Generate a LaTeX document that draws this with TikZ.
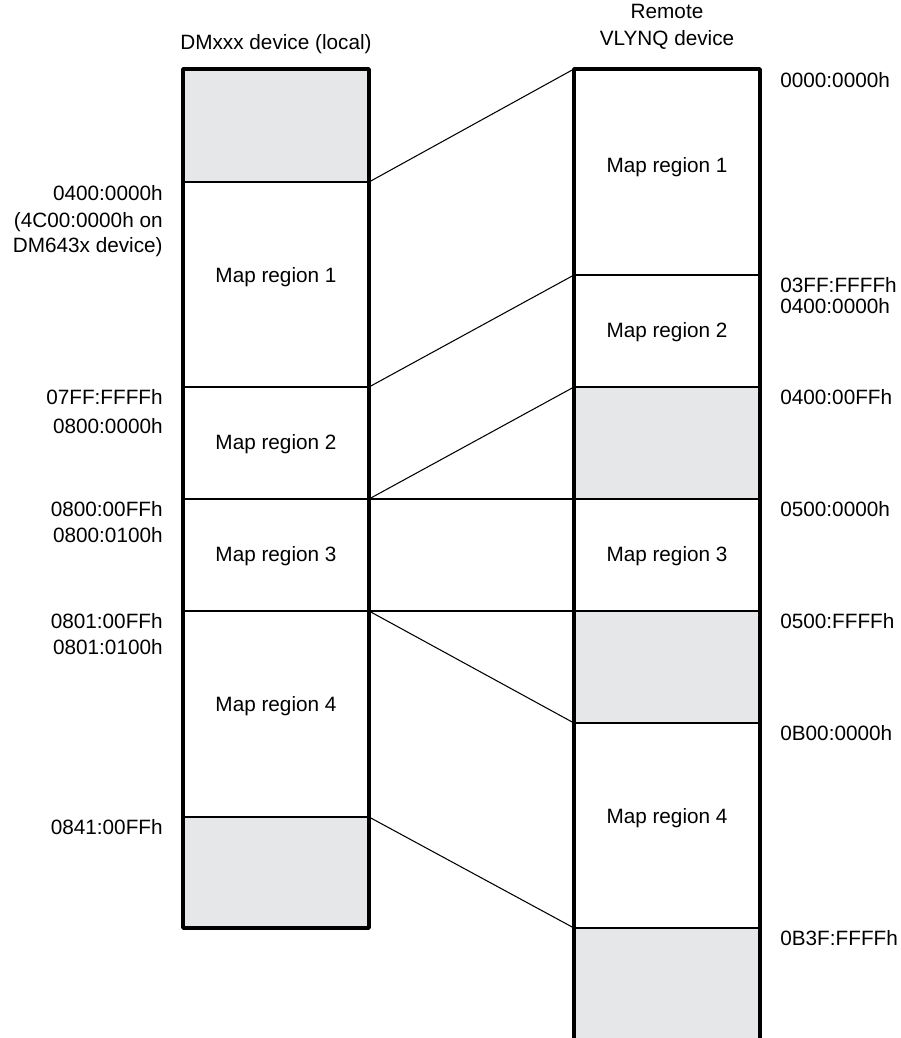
\documentclass[tikz,border=0pt]{standalone}
\usepackage{fontspec}
\setmainfont{Liberation Sans}
\usepackage{xcolor}
\usetikzlibrary{positioning}
\definecolor{resgray}{HTML}{E6E7E8}

\begin{document}
\begin{tikzpicture}[x=0.02cm, y=-0.02cm, font=\fontsize{11.8}{13}\selectfont,
    frame/.style={black, line width=2pt, line join=round},
    divider/.style={black, line width=0.8pt},
    link/.style={black, line width=0.6pt},
    addrL/.style={anchor=east, inner sep=0pt},
    addrR/.style={anchor=west, inner sep=0pt}]
  \useasboundingbox (0,0) rectangle (901,1038);
  % local device column
  \fill[resgray] (183,69) rectangle (369,182);
  \fill[resgray] (183,817) rectangle (369,928);
  \foreach \y in {182,387,499,611,817} \draw[divider] (183,\y) -- (369,\y);
  \draw[frame] (183,69) rectangle (369,928);
  % remote device column
  \fill[resgray] (574,387) rectangle (760,499);
  \fill[resgray] (574,611) rectangle (760,723);
  \fill[resgray] (574,928) rectangle (760,1038);
  \foreach \y in {275,387,499,611,723,928} \draw[divider] (574,\y) -- (760,\y);
  \draw[frame] (574,1040) -- (574,69) -- (760,69) -- (760,1040);
  % titles
  \node (tloc) at (276,44) {DMxxx device (local)};
  \node[align=center, font=\fontsize{11.8}{15.5}\selectfont] (trem) at (667,27) {Remote\\VLYNQ device};
  % region names
  \node (l1) at (276,277) {Map region 1};
  \node (l2) at (276,444) {Map region 2};
  \node (l3) at (276,556) {Map region 3};
  \node (l4) at (276,706) {Map region 4};
  \node (r1) at (667,167) {Map region 1};
  \node (r2) at (667,332) {Map region 2};
  \node (r3) at (667,556) {Map region 3};
  \node (r4) at (667,818) {Map region 4};
  % mapping end points
  \coordinate (La) at (369,182); \coordinate (Ra) at (574,69);
  \coordinate (Lb) at (369,387); \coordinate (Rb) at (574,275);
  \coordinate (Lc) at (369,499); \coordinate (Rc) at (574,387);
  \coordinate (Rd) at (574,499);
  \coordinate (Le) at (369,611); \coordinate (Re) at (574,611);
  \coordinate (Rf) at (574,723);
  \coordinate (Lg) at (369,817); \coordinate (Rg) at (574,928);
  \draw[link] (La) -- (Ra);
  \draw[link] (Lb) -- (Rb);
  \draw[link] (Lc) -- (Rc);
  \draw[link] (Lc) -- (Rd);
  \draw[link] (Le) -- (Re);
  \draw[link] (Le) -- (Rf);
  \draw[link] (Lg) -- (Rg);
  % local addresses
  \node[addrL] (a1) at (163,193) {0400:0000h};
  \node[addrL] (a2) at (163,222) {(4C00:0000h on};
  \node[addrL] (a3) at (163,247) {DM643x device)};
  \node[addrL] (a4) at (163,397) {07FF:FFFFh};
  \node[addrL] (a5) at (163,426) {0800:0000h};
  \node[addrL] (a6) at (163,509) {0800:00FFh};
  \node[addrL] (a7) at (163,535) {0800:0100h};
  \node[addrL] (a8) at (163,621) {0801:00FFh};
  \node[addrL] (a9) at (163,647) {0801:0100h};
  \node[addrL] (a10) at (163,827) {0841:00FFh};
  % remote addresses
  \node[addrR] (b1) at (780,80) {0000:0000h};
  \node[addrR] (b2) at (780,285) {03FF:FFFFh};
  \node[addrR] (b3) at (780,306) {0400:0000h};
  \node[addrR] (b4) at (780,397) {0400:00FFh};
  \node[addrR] (b5) at (780,509) {0500:0000h};
  \node[addrR] (b6) at (780,621) {0500:FFFFh};
  \node[addrR] (b7) at (780,733) {0B00:0000h};
  \node[addrR] (b8) at (780,938) {0B3F:FFFFh};
\end{tikzpicture}
\end{document}
